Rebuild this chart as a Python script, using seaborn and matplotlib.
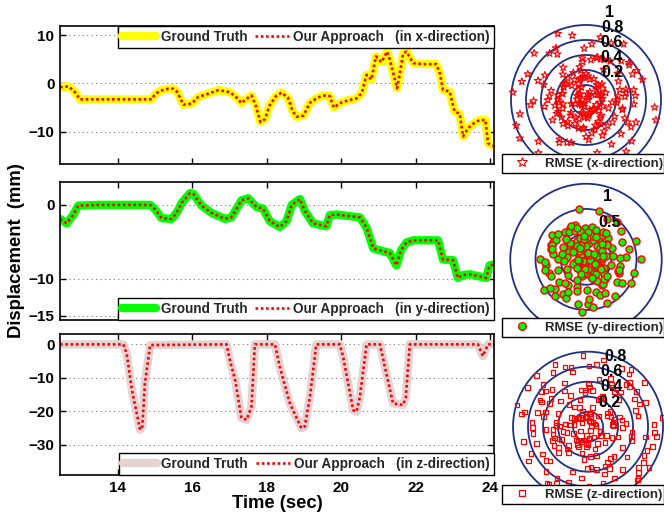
import numpy as np
import pandas as pd
import matplotlib
matplotlib.use("Agg")
import matplotlib.pyplot as plt
from matplotlib.patches import Circle
from matplotlib.lines import Line2D
import seaborn as sns

sns.set_theme(style="white")
plt.rcParams['font.family'] = ['Liberation Sans', 'DejaVu Sans']
plt.rcParams['font.weight'] = 'bold'
plt.rcParams['axes.labelweight'] = 'bold'

# ---- displacement traces (time in sec, displacement in mm) ----
t_x = [12.45, 12.68, 12.85, 12.99, 13.5, 14.0, 14.5, 14.91, 15.0, 15.15, 15.36, 15.5, 15.6, 15.76,
       15.98, 16.16, 16.4, 16.7, 17.01, 17.2, 17.32, 17.45, 17.59, 17.7, 17.83, 17.95, 18.08, 18.25,
       18.4, 18.57, 18.7, 18.8, 18.98, 19.16, 19.35, 19.51, 19.69, 19.8, 19.96, 20.18, 20.41, 20.55,
       20.68, 20.81, 20.93, 21.08, 21.23, 21.3, 21.4, 21.5, 21.58, 21.66, 21.75, 21.93, 22.2, 22.55,
       22.65, 22.73, 22.91, 23.04, 23.18, 23.27, 23.4, 23.55, 23.71, 23.87, 23.94, 24.1]
v_x = [-0.8, -0.6, -1.8, -3.3, -3.3, -3.3, -3.3, -3.3, -2.2, -1.5, -1.1, -1.1, -1.8, -4.4,
       -4.2, -2.8, -2.2, -1.4, -1.8, -3.0, -4.1, -3.2, -2.5, -4.5, -8.0, -7.4, -4.5, -2.6,
       -1.9, -3.0, -5.8, -6.9, -6.7, -4.0, -3.0, -2.5, -2.6, -5.0, -4.1, -3.5, -3.1, -2.0,
       1.8, 0.8, 5.6, 4.4, 6.6, 5.0, 2.0, -1.0, 2.5, 6.2, 6.6, 4.2, 4.0, 4.0,
       2.0, -1.3, -1.7, -5.8, -6.3, -11.0, -9.3, -8.3, -7.6, -7.6, -12.4, -13.0]

t_y = [12.45, 12.63, 12.8, 12.94, 13.5, 14.0, 14.5, 14.87, 15.0, 15.18, 15.45, 15.6, 15.72, 15.94,
       16.03, 16.25, 16.52, 16.88, 17.05, 17.32, 17.5, 17.73, 17.9, 18.08, 18.35, 18.53, 18.67, 18.89,
       19.02, 19.24, 19.6, 19.69, 19.87, 20.5, 20.68, 20.86, 21.21, 21.3, 21.48, 21.61, 21.75, 21.93,
       22.6, 22.73, 23.0, 23.13, 23.27, 23.45, 23.89, 23.98, 24.16]
v_y = [-1.9, -2.5, -1.4, -0.1, 0.0, 0.0, 0.0, 0.0, -0.6, -1.8, -1.9, -0.9, 0.3, 1.6,
       1.5, -0.1, -1.1, -1.9, -1.7, 0.6, 0.9, -0.3, -0.5, -2.2, -3.0, -2.2, 0.0, 0.8,
       -0.8, -2.5, -2.9, -1.4, -1.3, -1.7, -3.1, -5.9, -6.4, -6.5, -8.2, -6.1, -5.1, -4.8,
       -4.8, -7.4, -7.5, -9.9, -9.5, -9.4, -9.9, -8.2, -8.0]

t_z = [12.45, 14.15, 14.24, 14.38, 14.6, 14.66, 14.73, 14.87, 16.92, 17.01, 17.15, 17.32, 17.46,
       17.59, 17.68, 18.22, 18.35, 18.62, 18.93, 19.02, 19.16, 19.33, 19.96, 20.05, 20.32, 20.41,
       20.5, 20.68, 21.04, 21.17, 21.39, 21.66, 21.73, 21.84, 23.67, 23.8, 23.94, 24.16]
v_z = [0.0, 0.0, -2.7, -13.6, -25.5, -24.5, -11.6, -0.2, 0.0, -4.7, -10.6, -22.0, -22.5,
       -18.6, 0.0, 0.0, -6.7, -17.6, -25.0, -24.5, -15.6, 0.0, 0.0, -3.7, -19.6, -20.1,
       -15.6, 0.0, 0.0, -6.7, -17.6, -18.1, -16.0, 0.0, 0.0, -3.5, 0.0, 0.0]

time_ticks = [14, 16, 18, 20, 22, 24]
yticks_x = [-10, 0, 10]
yticks_y = [-15, -10, 0]
yticks_z = [-30, -20, -10, 0]

# ---- RMSE scatter (radius, angle in degrees) ----
rmse_x_r = [0.03, 0.08, 0.12, 0.15, 0.18, 0.22, 0.27, 0.3, 0.33, 0.09, 0.14, 0.19, 0.25, 0.31, 0.36,
            0.06, 0.16, 0.21, 0.28, 0.34, 0.1, 0.24, 0.15, 0.3, 0.18, 0.05, 0.27, 0.33, 0.22, 0.12,
            0.38, 0.2, 0.09, 0.29, 0.17, 0.35, 0.13, 0.26, 0.21, 0.32, 0.07, 0.24, 0.37, 0.18, 0.3,
            0.04, 0.11, 0.15, 0.21, 0.27, 0.32, 0.4, 0.18, 0.08, 0.24, 0.14, 0.3, 0.42, 0.17, 0.23,
            0.12, 0.35, 0.29, 0.2, 0.09,
            0.28, 0.32, 0.35, 0.4, 0.45, 0.5, 0.55, 0.3, 0.38, 0.42, 0.48, 0.52, 0.58, 0.27, 0.33,
            0.37, 0.44, 0.5, 0.56, 0.6, 0.29, 0.36, 0.41, 0.47, 0.53, 0.31, 0.39, 0.46, 0.54, 0.59,
            0.34, 0.43, 0.49, 0.57, 0.26, 0.4, 0.51, 0.35, 0.45, 0.55, 0.3, 0.48, 0.38, 0.52, 0.42,
            0.65, 0.7, 0.75, 0.8, 0.85, 0.9, 0.95, 1.0, 0.68, 0.73, 0.78, 0.83, 0.88, 0.93, 0.98,
            1.02, 0.62, 0.72, 0.82, 0.92, 0.66, 0.76, 0.86, 0.96, 0.64, 0.74, 0.84, 0.94, 1.04, 0.7,
            0.8, 0.9, 0.69, 0.79, 0.89, 0.99, 0.63, 0.77, 0.87, 0.97,
            0.36, 0.41, 0.47, 0.52, 0.58, 0.63, 0.69, 0.74, 0.39, 0.45, 0.5, 0.56, 0.61, 0.67, 0.72,
            0.37, 0.43, 0.49, 0.54, 0.6, 0.65, 0.71, 0.4, 0.46, 0.53, 0.59, 0.64, 0.7, 0.44, 0.51]
rmse_x_a = [10, 75, 140, 200, 260, 320, 35, 95, 165, 230, 290, 350, 55, 120, 185,
            245, 305, 15, 80, 150, 210, 275, 335, 45, 110, 175, 240, 300, 5, 65,
            130, 195, 255, 315, 25, 90, 155, 220, 280, 340, 50, 115, 180, 250, 310,
            60, 135, 310, 20, 250, 165, 100, 285, 215, 340, 30, 70, 190, 125, 265,
            175, 355, 105, 45, 230,
            20, 85, 150, 215, 280, 345, 40, 105, 170, 235, 300, 5, 70, 135, 200,
            265, 330, 30, 95, 160, 225, 290, 355, 60, 125, 190, 255, 320, 10, 75,
            140, 205, 270, 335, 50, 115, 180, 245, 310, 15, 100, 165, 230, 295, 0,
            12, 48, 84, 120, 156, 192, 228, 264, 300, 336, 30, 66, 102, 138, 174,
            210, 246, 282, 318, 354, 5, 41, 77, 113, 149, 185, 221, 257, 293, 329,
            20, 56, 92, 128, 164, 200, 236, 272, 308, 344,
            143, 287, 17, 211, 76, 332, 158, 39, 264, 101, 347, 189, 58, 238, 122,
            301, 7, 174, 83, 251, 316, 29, 203, 132, 274, 66, 355, 181, 226, 95]

rmse_y_r = [0.05, 0.1, 0.15, 0.2, 0.25, 0.3, 0.35, 0.4, 0.12, 0.18, 0.22, 0.28, 0.33, 0.38, 0.08,
            0.14, 0.24, 0.32, 0.42, 0.45, 0.06, 0.16, 0.26, 0.36, 0.44, 0.11, 0.21, 0.31, 0.41, 0.48,
            0.09, 0.19, 0.29, 0.39, 0.5, 0.13, 0.23, 0.34, 0.46, 0.17, 0.27, 0.37, 0.47, 0.04, 0.2,
            0.3, 0.4, 0.25, 0.35, 0.15,
            0.55, 0.6, 0.65, 0.7, 0.75, 0.8, 0.85, 0.9, 0.95, 1.0, 1.05, 0.58, 0.63, 0.68, 0.73,
            0.78, 0.83, 0.88, 0.93, 0.98, 1.08, 0.52, 0.62, 0.72, 0.82, 0.92, 1.02, 0.57, 0.67, 0.77,
            0.87, 0.97, 0.54, 0.64, 0.74, 0.84, 0.94, 1.04, 0.6, 0.7, 0.8, 0.9, 1.0, 0.56, 0.66,
            0.76, 0.86, 0.96, 0.53, 0.69, 0.79, 0.89, 0.99, 0.61, 0.71, 0.81, 0.91, 0.65, 0.75, 0.85,
            0.07, 0.12, 0.17, 0.22, 0.27, 0.32, 0.37, 0.42, 0.47, 0.52, 0.57, 0.62, 0.67, 0.72,
            0.1, 0.15, 0.2, 0.25, 0.3, 0.35, 0.4, 0.45, 0.5, 0.55, 0.6, 0.65, 0.7, 0.75,
            0.08, 0.13, 0.18, 0.23, 0.28, 0.33, 0.38, 0.43, 0.48, 0.53, 0.58, 0.63, 0.68, 0.73, 0.78,
            0.11, 0.16, 0.21, 0.26, 0.31, 0.36, 0.41, 0.46, 0.51, 0.56, 0.61, 0.66, 0.71, 0.76,
            0.14, 0.24, 0.34, 0.44, 0.54, 0.64, 0.74, 0.19, 0.29, 0.39, 0.49, 0.59, 0.69]
rmse_y_a = [30, 95, 160, 225, 290, 355, 50, 115, 180, 245, 310, 15, 80, 145, 210,
            275, 340, 5, 70, 135, 200, 265, 330, 40, 105, 170, 235, 300, 10, 75,
            140, 205, 270, 335, 60, 125, 190, 255, 320, 25, 90, 155, 220, 285, 350,
            110, 175, 240, 305, 65,
            8, 44, 80, 116, 152, 188, 224, 260, 296, 332, 20, 56, 92, 128, 164,
            200, 236, 272, 308, 344, 0, 36, 72, 108, 144, 180, 216, 252, 288, 324,
            14, 50, 86, 122, 158, 194, 230, 266, 302, 338, 26, 62, 98, 134, 170,
            206, 242, 278, 314, 350, 3, 39, 75, 111, 147, 183, 219, 255, 291, 327,
            211, 47, 318, 129, 263, 5, 172, 88, 297, 151, 23, 236, 340, 114, 69,
            192, 281, 12, 143, 327, 97, 246, 35, 178, 305, 58, 219, 137, 352, 81,
            266, 16, 199, 123, 289, 44, 167, 313, 102, 228, 3, 156, 274, 61, 187,
            333, 118, 251, 29, 206, 94, 348, 134, 271, 52, 163, 299, 76, 224, 11,
            184, 322, 106, 241, 38, 149, 287, 66, 201, 342]

rmse_z_r = [0.05, 0.08, 0.1, 0.12, 0.15, 0.18, 0.2, 0.22, 0.25, 0.28, 0.06, 0.11, 0.14, 0.17, 0.21,
            0.24, 0.27, 0.09, 0.13, 0.19, 0.23, 0.26, 0.07, 0.16, 0.29, 0.12, 0.2, 0.1, 0.18, 0.25,
            0.3, 0.33, 0.36, 0.39, 0.42, 0.45, 0.48, 0.51, 0.54, 0.57, 0.6, 0.63, 0.31, 0.34, 0.37,
            0.4, 0.43, 0.46, 0.49, 0.52, 0.55, 0.58, 0.61, 0.64, 0.32, 0.35, 0.38, 0.41, 0.44, 0.47,
            0.5, 0.53, 0.56, 0.59, 0.62, 0.65, 0.3, 0.36, 0.42, 0.48, 0.54, 0.6, 0.34, 0.4, 0.46,
            0.52, 0.58, 0.38, 0.44, 0.5,
            0.66, 0.69, 0.72, 0.75, 0.78, 0.81, 0.84, 0.87, 0.9, 0.93, 0.96, 0.99, 0.67, 0.7, 0.73,
            0.76, 0.79, 0.82, 0.85, 0.88, 0.91, 0.94, 0.97, 1.0, 0.68, 0.71, 0.74, 0.77, 0.8, 0.83,
            0.86, 0.89, 0.92, 0.95, 0.98, 0.7, 0.75, 0.8, 0.85, 0.9, 0.95, 0.72, 0.78, 0.84, 0.9,
            0.96, 0.74, 0.82, 0.88, 0.94,
            0.12, 0.22, 0.32, 0.42, 0.52, 0.62, 0.72, 0.82, 0.92, 0.17, 0.27, 0.37, 0.47, 0.57, 0.67,
            0.77, 0.87, 0.97, 0.14, 0.24, 0.34, 0.44, 0.54, 0.64, 0.74, 0.84, 0.94, 0.19, 0.29, 0.39,
            0.49, 0.59, 0.69, 0.79, 0.89, 0.99, 0.16, 0.26, 0.36, 0.46, 0.56, 0.66, 0.76, 0.86, 0.96,
            0.21, 0.31, 0.41, 0.51, 0.61, 0.71, 0.81, 0.91, 0.13, 0.23, 0.33, 0.43, 0.53, 0.63, 0.73,
            0.83, 0.93, 0.18, 0.28, 0.38, 0.48, 0.58, 0.68, 0.78, 0.88]
rmse_z_a = [15, 80, 145, 210, 275, 340, 45, 110, 175, 240, 305, 10, 75, 140, 205,
            270, 335, 40, 105, 170, 235, 300, 65, 130, 195, 260, 325, 20, 85, 150,
            173, 23, 257, 131, 341, 65, 215, 5, 299, 89, 149, 47, 317, 191, 107,
            275, 233, 359, 83, 209, 41, 293, 167, 251, 125, 335, 59, 227, 17, 185,
            101, 311, 269, 353, 143, 77, 245, 35, 203, 119, 329, 161, 11, 287, 95,
            221, 53, 179, 263, 137,
            118, 263, 31, 176, 350, 89, 205, 321, 60, 234, 147, 292, 19, 164, 309,
            48, 251, 106, 338, 193, 77, 280, 135, 7, 222, 65, 181, 297, 36, 268,
            123, 355, 210, 94, 326, 152, 24, 239, 111, 343, 53, 198, 285, 82, 169,
            314, 140, 227, 2, 256,
            97, 246, 35, 178, 305, 58, 219, 137, 352, 81, 266, 16, 199, 123, 289,
            44, 167, 313, 102, 228, 3, 156, 274, 61, 187, 333, 118, 251, 29, 206,
            94, 348, 134, 271, 52, 163, 299, 76, 224, 11, 184, 322, 106, 241, 38,
            149, 287, 66, 201, 342, 211, 47, 318, 129, 263, 5, 172, 88, 297, 151,
            23, 236, 340, 114, 69, 192, 281, 12, 143, 327]

rings_x = [0.2, 0.4, 0.6, 0.8, 1.0]
rings_y = [0.5, 1.0, 1.5]
rings_z = [0.2, 0.4, 0.6, 0.8, 1.0]
labels_x = ['1', '0.8', '0.6', '0.4', '0.2']
labels_y = ['1', '0.5']
labels_z = ['0.8', '0.6', '0.4', '0.2']

W, H = 664, 513
fig = plt.figure(figsize=(W / 100, H / 100), dpi=100)


def fbox(x0, y0, x1, y1):
    # pixel box (top-left origin) -> figure fraction
    return [x0 / W, 1 - y1 / H, (x1 - x0) / W, (y1 - y0) / H]


ring_color = '#1c3088'
leg_font = {'weight': 'bold', 'size': 9.8}

panels = [
    (t_x, v_x, '#ffff00', (60, 26, 494, 164), (-16.7, 11.9), yticks_x, 'x', 'upper right'),
    (t_y, v_y, '#00ff00', (60, 182, 494, 320), (-15.6, 3.1), yticks_y, 'y', 'lower right'),
    (t_z, v_z, '#e6d2d2', (60, 334, 494, 475), (-39, 3.1), yticks_z, 'z', 'lower right'),
]

for i, (t, v, gt_color, box, ylim, yt, d, loc) in enumerate(panels):
    ax = fig.add_axes(fbox(*box))
    df = pd.DataFrame({'t': t, 'v': v})
    sns.lineplot(data=df, x='t', y='v', ax=ax, color=gt_color, linewidth=6, estimator=None,
                 sort=False, legend=False, solid_joinstyle='round', solid_capstyle='round')
    sns.lineplot(data=df, x='t', y='v', ax=ax, color='red', linewidth=1.9, estimator=None,
                 sort=False, legend=False, linestyle=(0, (1, 1)))
    ax.set_xlim(12.45, 24.1)
    ax.set_ylim(*ylim)
    ax.set_xticks(time_ticks)
    ax.set_yticks(yt)
    ax.yaxis.grid(True, linestyle=(0, (1, 3)), color='#777777', linewidth=0.8)
    ax.xaxis.grid(False)
    ax.tick_params(direction='in', length=4, width=1, top=True, right=True, left=True, bottom=True,
                   labelsize=11, colors='black', pad=4)
    for s in ax.spines.values():
        s.set_color('black')
        s.set_linewidth(1.2)
    ax.set_ylabel('')
    if i < 2:
        ax.tick_params(labelbottom=False)
        ax.set_xlabel('')
    else:
        ax.set_xlabel('Time (sec)', fontsize=13.3, labelpad=0, color='black')
    for lab in ax.get_xticklabels() + ax.get_yticklabels():
        lab.set_fontweight('bold')
    handles = [Line2D([], [], color=gt_color, lw=6),
               Line2D([], [], color='red', lw=1.9, ls=(0, (1, 1)))]
    leg = ax.legend(handles, ['Ground Truth', 'Our Approach   (in %s-direction)' % d], loc=loc,
                    ncol=2, prop=leg_font, frameon=True, fancybox=False, borderpad=0.3,
                    handlelength=2.5, handletextpad=0.3, columnspacing=0.6, borderaxespad=0,
                    framealpha=1)
    leg.get_frame().set_edgecolor('black')
    leg.get_frame().set_linewidth(1.0)

fig.text(17 / W, 1 - 251 / H, 'Displacement  (mm)', rotation=90, ha='center', va='center',
         fontsize=13.3, fontweight='bold', color='black')

# ---- right-hand RMSE targets ----
targets = [
    (rmse_x_r, rmse_x_a, rings_x, labels_x, [0.32, 0.347, 0.347, 0.347, 0.347], [1.16, 0.96, 0.76, 0.56, 0.36],
     (502, 0, 664, 173), (-1.12, 1.04), (-0.973, 1.333), (502, 152, 664, 173), 'x',
     dict(marker='*', s=30, facecolors='none', edgecolor='red', linewidth=0.8),
     dict(marker='*', ms=7, mfc='none', mec='red', mew=0.8)),
    (rmse_y_r, rmse_y_a, rings_y, labels_y, [0.42, 0.475], [1.24, 0.74],
     (502, 173, 664, 337), (-1.663, 1.545), (-1.535, 1.713), (502, 315, 664, 337), 'y',
     dict(marker='o', s=26, color='#00ff00', edgecolor='red', linewidth=1.0),
     dict(marker='o', ms=5.5, mfc='#00ff00', mec='red', mew=1.0)),
    (rmse_z_r, rmse_z_a, rings_z, labels_z, [0.37, 0.32, 0.32, 0.29], [0.93, 0.73, 0.53, 0.32],
     (502, 337, 664, 513), (-1.147, 1.013), (-1.151, 1.196), (502, 482, 664, 504), 'z',
     dict(marker='s', s=11, facecolors='none', edgecolor='red', linewidth=0.9),
     dict(marker='s', ms=4, mfc='none', mec='red', mew=0.9)),
]

for r, a, rings, labels, lx, ly, box, xl, yl, lbox, d, skw, hkw in targets:
    ax = fig.add_axes(fbox(*box))
    ax.set_xlim(*xl)
    ax.set_ylim(*yl)
    ax.axis('off')
    for rr in rings:
        ax.add_patch(Circle((0, 0), rr, fill=False, ec=ring_color, lw=1.3, zorder=1))
    r = np.asarray(r)
    a = np.deg2rad(np.asarray(a))
    sns.scatterplot(x=r * np.cos(a), y=r * np.sin(a), ax=ax, legend=False, zorder=2, **skw)
    for s, x, y in zip(labels, lx, ly):
        ax.text(x, y, s, ha='center', va='center', fontsize=11.5, fontweight='bold',
                color='black', zorder=3)
    h = Line2D([], [], ls='none', **hkw)
    leg = ax.legend([h], ['RMSE (%s-direction)' % d], loc='lower left',
                    bbox_to_anchor=fbox(*lbox), bbox_transform=fig.transFigure, mode='expand',
                    borderaxespad=0, prop={'weight': 'bold', 'size': 9.5}, frameon=True,
                    fancybox=False, borderpad=0.25, handlelength=2.5, handletextpad=0.5,
                    framealpha=1)
    leg.get_frame().set_edgecolor('black')
    leg.get_frame().set_linewidth(1.0)
    leg.set_zorder(5)

fig.savefig('out.png', dpi=100, facecolor='white')
